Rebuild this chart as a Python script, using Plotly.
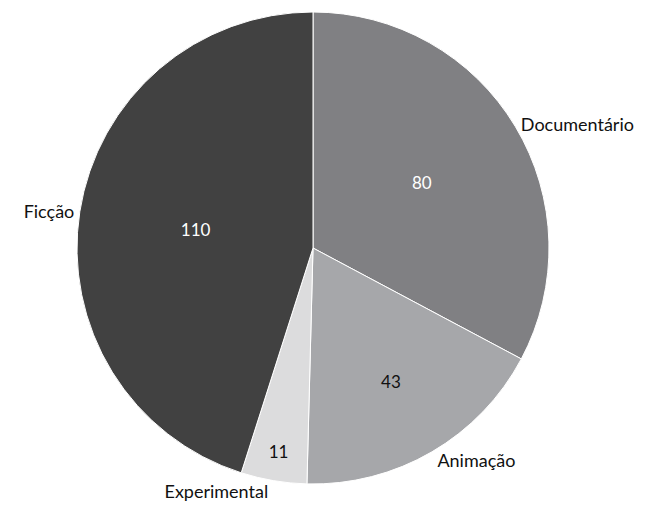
import plotly.graph_objects as go

categories = ["Documentário", "Animação", "Experimental", "Ficção"]
values = [80, 43, 11, 110]
colors = ["#808083", "#a6a7aa", "#dcdcdd", "#414141"]
value_text_colors = ["#ffffff", "#111111", "#111111", "#ffffff"]

FONT = "Lato"
domain = dict(x=[0, 1], y=[0, 1])

fig = go.Figure()
fig.add_trace(go.Pie(
    labels=categories, values=values, sort=False, direction="clockwise", rotation=0,
    marker=dict(colors=colors, line=dict(color="#ffffff", width=1)),
    textinfo="value", textposition="inside", insidetextorientation="horizontal",
    textfont=dict(family=FONT, size=17, color=value_text_colors),
    showlegend=False, domain=domain, hoverinfo="label+value",
))
fig.add_trace(go.Pie(
    labels=categories, values=values, sort=False, direction="clockwise", rotation=0,
    marker=dict(colors=["rgba(0,0,0,0)"] * 4, line=dict(width=0)),
    textinfo="label", textposition="outside",
    outsidetextfont=dict(family=FONT, size=18, color="#111111"),
    showlegend=False, domain=domain, hoverinfo="skip",
))
fig.update_layout(
    width=660, height=506,
    margin=dict(l=69, r=119, t=4, b=30),
    paper_bgcolor="#ffffff", plot_bgcolor="#ffffff",
    font=dict(family=FONT),
)
fig.write_html("out.html")
